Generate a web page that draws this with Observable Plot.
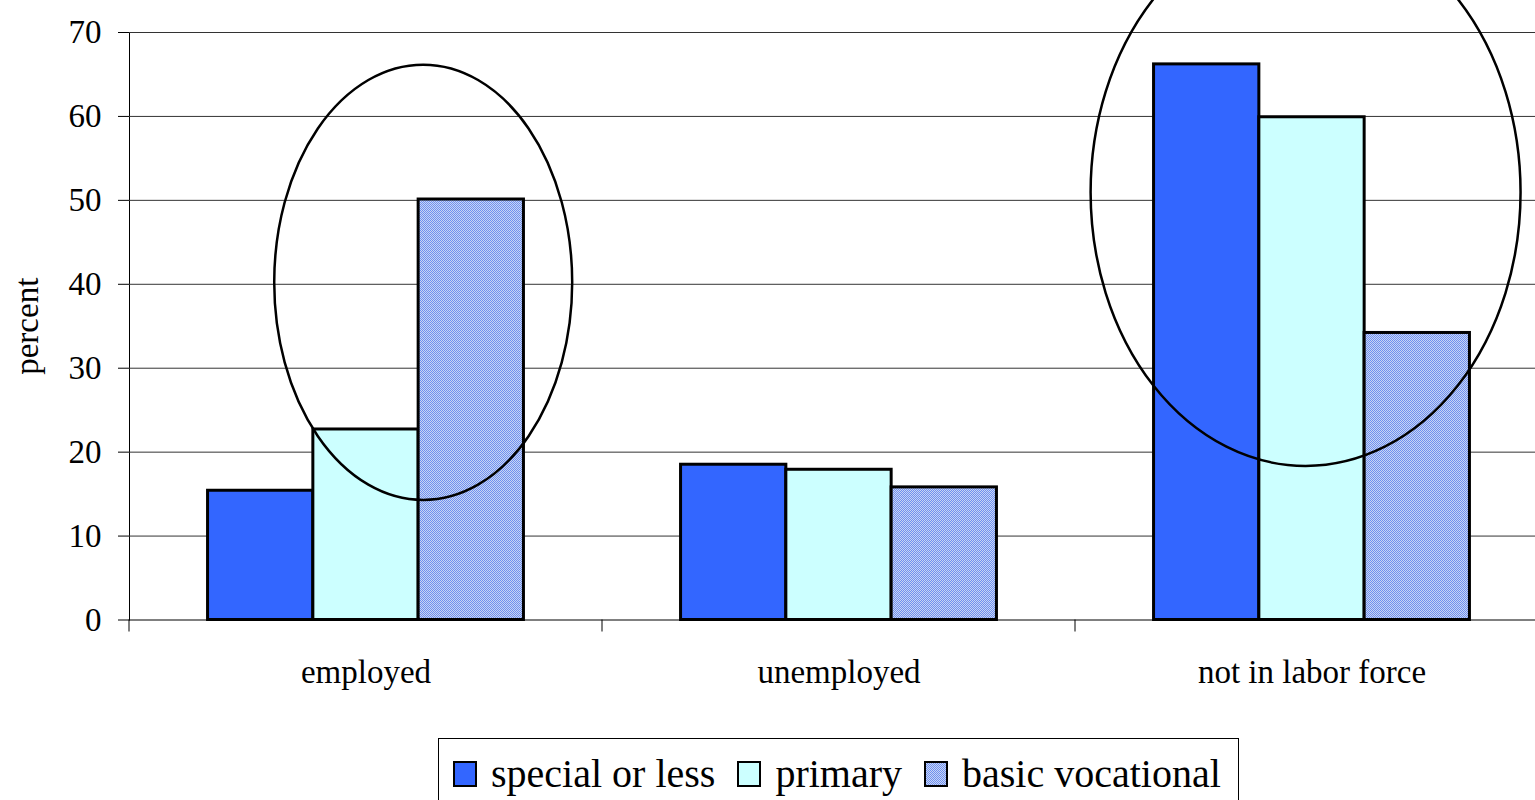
<!DOCTYPE html>
<html>
<head>
<meta charset="utf-8">
<script src="https://cdn.jsdelivr.net/npm/d3@7"></script>
<script src="https://cdn.jsdelivr.net/npm/@observablehq/plot@0.6"></script>
<style>
html, body { margin: 0; padding: 0; overflow: hidden; background: #fff; width: 1535px; height: 800px; }
#chart { position: absolute; left: 0; top: 0; width: 1535px; }
#chart svg text { font-family: "Liberation Serif", "Times New Roman", serif; }
#legend {
  position: absolute; left: 438px; top: 738px; width: 801px; height: 70px;
  border: 1px solid #000; box-sizing: border-box; background: #fff;
  font-family: "Liberation Serif", "Times New Roman", serif; font-size: 40px; line-height: 40px;
  padding: 15px 0 0 14px; display: flex; align-items: flex-start; white-space: nowrap; color: #000;
}
#legend .item { display: inline-flex; align-items: center; height: 40px; margin-right: 22px; }
#legend .sw { width: 24px; height: 26px; border: 2.5px solid #000; box-sizing: border-box; margin-right: 14px; }
#legend .pattern { background: repeating-conic-gradient(#7090f0 0 25%, #c8d6f4 0 50%) 0 0 / 2px 2px; }
</style>
</head>
<body>
<div id="chart"></div>
<div id="legend"></div>
<script>
// ---- data ----
const categories = ["employed", "unemployed", "not in labor force"];
const seriesNames = ["special or less", "primary", "basic vocational"];
const specialOrLess = [15.4, 18.5, 66.2];
const primary = [22.7, 17.9, 59.9];
const basicVocational = [50.1, 15.8, 34.2];
const yTicks = [0, 10, 20, 30, 40, 50, 60, 70];
const seriesColors = ["#3366ff", "#ccffff", "url(#basicPattern)"];
// annotation ellipses: horizontal extent as fraction of the category band, vertical extent in percent
const ellipseCategory = ["employed", "not in labor force"];
const ellipseLeft = [0.307, 0.033];
const ellipseRight = [0.937, 0.942];
const ellipseTop = [66.1, 83.5];
const ellipseBottom = [14.25, 18.3];

const seriesValues = [specialOrLess, primary, basicVocational];
const rows = [];
categories.forEach((c, i) => seriesNames.forEach((s, j) => rows.push({category: c, series: s, value: seriesValues[j][i]})));

const plot = Plot.plot({
  width: 1535,
  height: 738,
  marginTop: 32,
  marginBottom: 118.5,
  marginLeft: 129,
  marginRight: 0,
  facet: {marginTop: 0, marginRight: 0, marginBottom: 0, marginLeft: 0},
  style: {fontFamily: "Liberation Serif", fontSize: "33px", color: "#000", background: "transparent", overflow: "hidden"},
  fx: {domain: categories, range: [129, 1548], paddingInner: 0, paddingOuter: 0, round: false, axis: "bottom", tickSize: 0, tickPadding: 40, label: null},
  x: {domain: seriesNames, paddingInner: 0, paddingOuter: 0.746, round: false, axis: null},
  y: {domain: [0, 70], ticks: yTicks, tickSize: 11, tickPadding: 17, label: "percent", labelAnchor: "center", labelOffset: 115, labelArrow: false, line: true},
  color: {domain: seriesNames, range: seriesColors},
  marks: [
    Plot.ruleY(yTicks.filter(d => d > 0), {stroke: "#333", strokeWidth: 1}),
    Plot.ruleY([0], {stroke: "#000", strokeWidth: 1}),
    Plot.barY(rows, {fx: "category", x: "series", y: "value", fill: "series", stroke: "#000", strokeWidth: 3})
  ]
});
document.getElementById("chart").appendChild(plot);

const svg = d3.select(plot.tagName.toLowerCase() === "svg" ? plot : plot.querySelector("svg"));
// checkered fill for "basic vocational"
const defs = svg.insert("defs", ":first-child");
const pat = defs.append("pattern").attr("id", "basicPattern").attr("width", 2).attr("height", 2).attr("patternUnits", "userSpaceOnUse");
pat.append("rect").attr("width", 2).attr("height", 2).attr("fill", "#c8d6f4");
pat.append("rect").attr("width", 1).attr("height", 1).attr("fill", "#7090f0");
pat.append("rect").attr("x", 1).attr("y", 1).attr("width", 1).attr("height", 1).attr("fill", "#7090f0");

// scales from the plot
const fxd = plot.scale("fx");
const yd = plot.scale("y");
const fxs = d3.scaleBand().domain(fxd.domain).range(fxd.range).paddingInner(fxd.paddingInner ?? 0).paddingOuter(fxd.paddingOuter ?? 0).align(fxd.align ?? 0.5);
const ys = d3.scaleLinear().domain(yd.domain).range(yd.range);
const bw = fxs.bandwidth();

// category boundary ticks
const g = svg.append("g");
categories.forEach(c => {
  const x = fxs(c);
  g.append("line").attr("x1", x).attr("x2", x).attr("y1", ys(0)).attr("y2", ys(0) + 12).attr("stroke", "#000").attr("stroke-width", 1);
});

// annotation ellipses
ellipseCategory.forEach((c, i) => {
  const x0 = fxs(c) + ellipseLeft[i] * bw, x1 = fxs(c) + ellipseRight[i] * bw;
  const yt = ys(ellipseTop[i]), yb = ys(ellipseBottom[i]);
  g.append("ellipse").attr("cx", (x0 + x1) / 2).attr("cy", (yt + yb) / 2).attr("rx", (x1 - x0) / 2).attr("ry", (yb - yt) / 2)
    .attr("fill", "none").attr("stroke", "#000").attr("stroke-width", 2.5);
});

// legend
const legend = d3.select("#legend");
seriesNames.forEach((s, i) => {
  const item = legend.append("span").attr("class", "item");
  const sw = item.append("span").attr("class", "sw" + (i === 2 ? " pattern" : ""));
  if (i !== 2) sw.style("background", seriesColors[i]);
  item.append("span").text(s);
});
</script>
</body>
</html>
